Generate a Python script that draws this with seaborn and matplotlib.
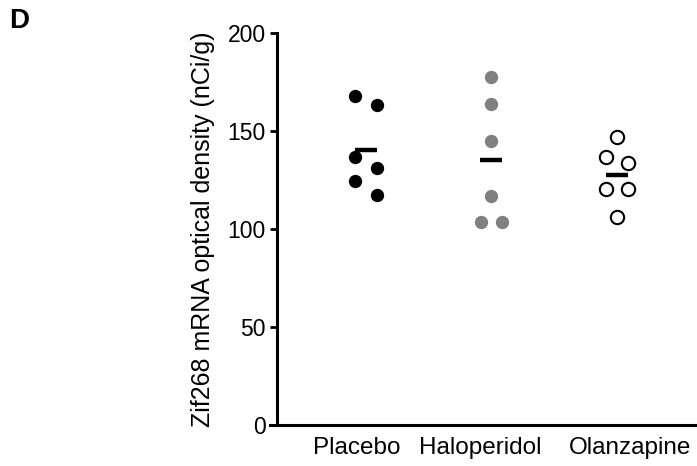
import matplotlib
matplotlib.use("Agg")
import matplotlib.pyplot as plt
import matplotlib.transforms as mtransforms
import seaborn as sns
import pandas as pd
import numpy as np

groups = ["Placebo", "Haloperidol", "Olanzapine"]
placebo = [168.0, 163.5, 136.7, 131.0, 124.3, 117.2]
haloperidol = [177.8, 164.0, 145.0, 116.7, 103.7, 103.7]
olanzapine = [146.9, 137.0, 133.7, 120.4, 120.4, 106.2]
yticks = [0, 50, 100, 150, 200]
ylabel = "Zif268 mRNA optical density (nCi/g)"


def row_layout(values, center, bin_height=8.5, spacing=0.17):
    """Prism-like scatter layout: points close in value share a row."""
    order = np.argsort(values)[::-1]
    xs = np.zeros(len(values))
    rows, current = [], []
    for i in order:
        if current and values[current[0]] - values[i] < bin_height:
            current.append(i)
        else:
            if current:
                rows.append(current)
            current = [i]
    rows.append(current)
    for row in rows:
        n = len(row)
        for k, i in enumerate(row):
            xs[i] = center + (k - (n - 1) / 2) * spacing
    return xs


data = {"Placebo": placebo, "Haloperidol": haloperidol, "Olanzapine": olanzapine}
frames = []
for gi, g in enumerate(groups):
    vals = np.array(data[g])
    frames.append(pd.DataFrame({"group": g, "pos": gi, "value": vals,
                                "x": row_layout(vals, gi)}))
df = pd.concat(frames, ignore_index=True)

sns.set_theme(style="ticks")
plt.rcParams["font.family"] = ["Liberation Sans", "DejaVu Sans"]
for k in ["text.color", "axes.labelcolor", "xtick.color", "ytick.color", "axes.edgecolor"]:
    plt.rcParams[k] = "black"

fig = plt.figure(figsize=(6.97, 4.66), dpi=100)
ax = fig.add_axes([0.3974, 0.088, 0.6026, 0.841])

styles = {
    "Placebo": dict(color="black", edgecolor="black", linewidth=0),
    "Haloperidol": dict(color="#808080", edgecolor="#808080", linewidth=0),
    "Olanzapine": dict(color="white", edgecolor="black", linewidth=1.5),
}
for g in groups:
    sns.scatterplot(data=df[df["group"] == g], x="x", y="value", s=92,
                    ax=ax, zorder=3, legend=False, **styles[g])

sns.pointplot(data=df, x="pos", y="value", native_scale=True, errorbar=None,
              linestyle="none", marker="_", markersize=16, markeredgewidth=3.2,
              color="black", ax=ax, zorder=4)

ax.set_ylim(0, 200)
ax.set_yticks(yticks)
ax.set_xticks(range(len(groups)))
ax.set_xticklabels(groups)
ax.set_xlim(-0.709, 2.638)
ax.set_xlabel("")
ax.set_ylabel(ylabel, fontsize=18, labelpad=9)
ax.tick_params(axis="y", labelsize=16.5, length=5, width=2, pad=3)
ax.tick_params(axis="x", labelsize=17.5, length=0, pad=9)
for s in ["top", "right"]:
    ax.spines[s].set_visible(False)
for s in ["left", "bottom"]:
    ax.spines[s].set_linewidth(2.2)
ax.spines["bottom"].set_bounds(-0.709 - 7 / 125.5, 2.638)

# horizontal nudges of the category labels (pixels), as in the reference
for lab, dx in zip(ax.get_xticklabels(), [-9, -11, 13]):
    lab.set_transform(lab.get_transform() +
                      mtransforms.ScaledTranslation(dx / 100, 0, fig.dpi_scale_trans))

fig.text(0.013, 0.94, "D", fontsize=20, fontweight="bold", ha="left", va="baseline")

fig.savefig("out.png", dpi=100)
